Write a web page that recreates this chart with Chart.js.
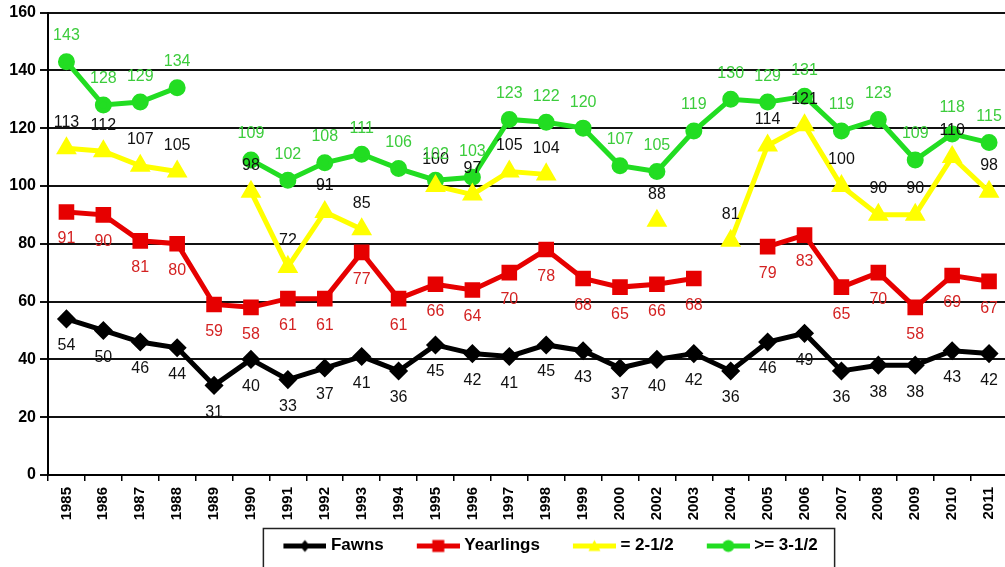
<!DOCTYPE html>
<html>
<head>
<meta charset="utf-8">
<script src="https://cdn.jsdelivr.net/npm/chart.js@4.4.1/dist/chart.umd.min.js"></script>
<style>
    html, body { margin: 0; padding: 0; background: #fff; overflow: hidden; }
    #wrap { position: relative; width: 1020px; height: 567px; }
</style>
</head>
<body>
<div id="wrap"><canvas id="deer-chart"></canvas></div>
<script>
const years = ['1985', '1986', '1987', '1988', '1989', '1990', '1991', '1992', '1993', '1994',
    '1995', '1996', '1997', '1998', '1999', '2000', '2002', '2003', '2004', '2005',
    '2006', '2007', '2008', '2009', '2010', '2011'];

const fawns = [54, 50, 46, 44, 31, 40, 33, 37, 41, 36, 45, 42, 41, 45, 43, 37, 40, 42, 36, 46,
    49, 36, 38, 38, 43, 42];
const yearlings = [91, 90, 81, 80, 59, 58, 61, 61, 77, 61, 66, 64, 70, 78, 68, 65, 66, 68, null, 79,
    83, 65, 70, 58, 69, 67];
const twoAndHalf = [113, 112, 107, 105, null, 98, 72, 91, 85, null, 100, 97, 105, 104, null, null, 88, null, 81, 114,
    121, 100, 90, 90, 110, 98];
const threeAndHalf = [143, 128, 129, 134, null, 109, 102, 108, 111, 106, 102, 103, 123, 122, 120, 107, 105, 119, 130, 129,
    131, 119, 123, 109, 118, 115];

const yTicks = [0, 20, 40, 60, 80, 100, 120, 140, 160];

const FONT = '"Liberation Sans", Arial, sans-serif';
const BLACK = '#000000';
const RED = '#e60000';
const YELLOW = '#ffff00';
const GREEN = '#22dd22';

// legend picture: empty space on the left, then a line with the marker on it
const SYM_W = 43;
const LEGEND_BOX_W = 59;
const LEGEND_IMG_W = LEGEND_BOX_W + 8;

function legendSymbol(color, shape) {
    const c = document.createElement('canvas');
    c.width = LEGEND_IMG_W;
    c.height = 16;
    const g = c.getContext('2d');
    const left = LEGEND_IMG_W - SYM_W;
    g.fillStyle = color;
    g.fillRect(left, 6, SYM_W, 5);
    const cx = left + SYM_W / 2, cy = 8.5;
    g.beginPath();
    if (shape === 'diamond') {
        g.moveTo(cx, cy - 6); g.lineTo(cx + 5, cy); g.lineTo(cx, cy + 6); g.lineTo(cx - 5, cy);
    } else if (shape === 'square') {
        g.rect(cx - 6, cy - 6, 12, 12);
    } else if (shape === 'triangle') {
        g.moveTo(cx, cy - 6); g.lineTo(cx + 6, cy + 5); g.lineTo(cx - 6, cy + 5);
    } else {
        g.arc(cx, cy, 6, 0, Math.PI * 2);
    }
    g.closePath();
    g.fill();
    return c;
}

const valueLabels = {
    id: 'valueLabels',
    afterDatasetsDraw(chart) {
        const ctx = chart.ctx;
        ctx.save();
        ctx.font = '16px ' + FONT;
        ctx.textAlign = 'center';
        ctx.textBaseline = 'middle';
        chart.data.datasets.forEach((ds, di) => {
            const meta = chart.getDatasetMeta(di);
            meta.data.forEach((pt, i) => {
                const v = ds.data[i];
                if (v === null || v === undefined) return;
                ctx.fillStyle = ds.labelColor;
                const dy = ds.labelSide === 'above' ? -26 : 27;
                ctx.fillText(String(v), pt.x, pt.y + dy);
            });
        });
        ctx.restore();
    },
};

// nudge the legend right/up and put a frame around it
const legendFrame = {
    id: 'legendFrame',
    afterLayout(chart) {
        const lg = chart.legend;
        lg.left += 33;
        lg.right += 33;
        lg.top -= 3;
        lg.bottom -= 3;
    },
    afterDraw(chart) {
        const lg = chart.legend;
        if (!lg || !lg.lineWidths) return;
        const pad = lg.options.labels.padding;
        const content = lg.lineWidths[0] - pad;
        const cx = (lg.left + lg.right) / 2;
        const symStart = cx - content / 2 + (LEGEND_BOX_W - 39);
        const x0 = symStart - 20;
        const x1 = cx + content / 2 + 17;
        const y0 = lg.top + pad + 8.5 - 17;
        const ctx = chart.ctx;
        ctx.save();
        ctx.strokeStyle = '#222';
        ctx.lineWidth = 1.5;
        ctx.strokeRect(x0, y0, x1 - x0, chart.height + 10 - y0);
        ctx.restore();
    },
};

new Chart(document.getElementById('deer-chart'), {
    type: 'line',
    data: {
        labels: years,
        datasets: [
            {
                label: 'Fawns',
                data: fawns,
                borderColor: BLACK,
                backgroundColor: BLACK,
                borderWidth: 5,
                pointStyle: 'rectRot',
                pointRadius: 6,
                labelColor: '#111',
                labelSide: 'below',
                legendImage: legendSymbol(BLACK, 'diamond'),
            },
            {
                label: 'Yearlings',
                data: yearlings,
                borderColor: RED,
                backgroundColor: RED,
                borderWidth: 5,
                pointStyle: 'rect',
                pointRadius: 7.5,
                labelColor: '#d42222',
                labelSide: 'below',
                legendImage: legendSymbol(RED, 'square'),
            },
            {
                label: '= 2-1/2',
                data: twoAndHalf,
                borderColor: YELLOW,
                backgroundColor: YELLOW,
                borderWidth: 5,
                pointStyle: 'triangle',
                pointRadius: 7,
                labelColor: '#111',
                labelSide: 'above',
                legendImage: legendSymbol(YELLOW, 'triangle'),
            },
            {
                label: '>= 3-1/2',
                data: threeAndHalf,
                borderColor: GREEN,
                backgroundColor: GREEN,
                borderWidth: 5,
                pointStyle: 'circle',
                pointRadius: 6,
                labelColor: '#3ccc3c',
                labelSide: 'above',
                legendImage: legendSymbol(GREEN, 'circle'),
            },
        ],
    },
    options: {
        responsive: true,
        maintainAspectRatio: false,
        animation: false,
        spanGaps: false,
        layout: {
            padding: { top: 8, right: 5, left: 0, bottom: 0 },
        },
        elements: {
            line: { tension: 0 },
            point: { borderWidth: 0 },
        },
        plugins: {
            tooltip: { enabled: false },
            legend: {
                position: 'bottom',
                labels: {
                    color: '#000',
                    font: { family: FONT, size: 17, weight: 'bold' },
                    usePointStyle: true,
                    pointStyleWidth: LEGEND_BOX_W,
                    padding: 13,
                    generateLabels: (chart) => chart.data.datasets.map((ds, i) => ({
                        text: ds.label,
                        pointStyle: ds.legendImage,
                        fillStyle: ds.backgroundColor,
                        strokeStyle: ds.borderColor,
                        lineWidth: 0,
                        hidden: false,
                        datasetIndex: i,
                    })),
                },
            },
        },
        scales: {
            x: {
                offset: true,
                afterFit: (scale) => { scale.height = 52; },
                grid: {
                    offset: true,
                    drawOnChartArea: false,
                    drawTicks: true,
                    tickLength: 6,
                    color: '#000',
                    lineWidth: 1.5,
                },
                border: { color: '#000', width: 2 },
                ticks: {
                    autoSkip: false,
                    maxRotation: 90,
                    minRotation: 90,
                    padding: 6,
                    color: '#000',
                    font: { family: FONT, size: 15, weight: 'bold' },
                },
            },
            y: {
                min: 0,
                max: 160,
                afterFit: (scale) => { scale.width = 48; },
                afterBuildTicks: (scale) => { scale.ticks = yTicks.map((v) => ({ value: v })); },
                grid: {
                    color: '#111',
                    lineWidth: 2,
                    tickLength: 8,
                },
                border: { color: '#000', width: 2 },
                ticks: {
                    padding: 4,
                    color: '#000',
                    font: { family: FONT, size: 16, weight: 'bold', lineHeight: 1 },
                },
            },
        },
    },
    plugins: [valueLabels, legendFrame],
});
</script>
</body>
</html>
